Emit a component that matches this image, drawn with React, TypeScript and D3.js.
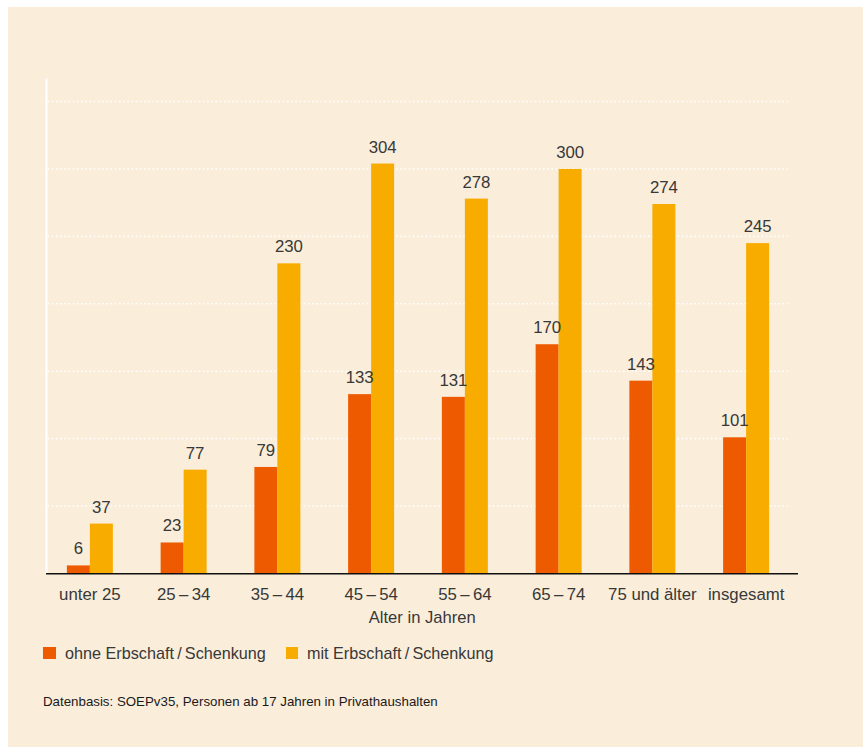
import React from "react";
import * as d3 from "d3";

const categories = ["unter 25", "25\u2009\u2013\u200934", "35\u2009\u2013\u200944", "45\u2009\u2013\u200954", "55\u2009\u2013\u200964", "65\u2009\u2013\u200974", "75 und älter", "insgesamt"];
const ohneValues = [6, 23, 79, 133, 131, 170, 143, 101];
const mitValues = [37, 77, 230, 304, 278, 300, 274, 245];
const gridTicks = [50, 100, 150, 200, 250, 300, 350];
const seriesNames = ["ohne Erbschaft\u2009/\u2009Schenkung", "mit Erbschaft\u2009/\u2009Schenkung"];
const xAxisTitle = "Alter in Jahren";
const sourceNote = "Datenbasis: SOEPv35, Personen ab 17 Jahren in Privathaushalten";

const W = 863;
const H = 747;
const BG = "#FAEDDA";
const ORANGE = "#EE5A00";
const YELLOW = "#F8AC00";
const TEXT = "#383838";
const FONT = "'Liberation Sans', Arial, Helvetica, sans-serif";

export default function App() {
  const x = d3.scaleBand<string>().domain(categories).range([43, 793]).padding(0);
  const y = d3.scaleLinear().domain([0, 350]).range([573.5, 101.5]);
  const barW = 23;
  const axisLeft = 46.5;
  const axisRight = 798;
  const gridRight = 788;

  return (
    <svg
      width={W}
      height={H}
      style={{ position: "absolute", left: 0, top: 0, display: "block" }}
      fontFamily={FONT}
    >
      <rect x={8} y={7} width={W - 8} height={H - 7} fill={BG} />
      {gridTicks.map((t) => (
        <line
          key={t}
          x1={axisLeft + 1}
          x2={gridRight}
          y1={y(t)}
          y2={y(t)}
          stroke="#FFFFFF"
          strokeWidth={1.6}
          strokeDasharray="1.6 2.6"
        />
      ))}
      <line x1={axisLeft} x2={axisLeft} y1={y(367)} y2={y(0)} stroke="#FFFFFF" strokeWidth={2} />
      {categories.map((c, i) => {
        const cx = (x(c) as number) + x.bandwidth() / 2;
        const o = ohneValues[i];
        const m = mitValues[i];
        return (
          <g key={c}>
            <rect x={cx - barW} y={y(o)} width={barW} height={y(0) - y(o)} fill={ORANGE} />
            <rect x={cx} y={y(m)} width={barW} height={y(0) - y(m)} fill={YELLOW} />
            <text x={cx - barW / 2} y={y(o) - 11} textAnchor="middle" fontSize={16.8} fill={TEXT}>
              {o}
            </text>
            <text x={cx + barW / 2} y={y(m) - 11} textAnchor="middle" fontSize={16.8} fill={TEXT}>
              {m}
            </text>
            <text x={cx} y={600} textAnchor="middle" fontSize={16.8} fill={TEXT}>
              {c}
            </text>
          </g>
        );
      })}
      <line x1={axisLeft - 0.5} x2={axisRight} y1={y(0) + 0.3} y2={y(0) + 0.3} stroke="#111111" strokeWidth={1.6} />
      <text x={(axisLeft + axisRight) / 2} y={623} textAnchor="middle" fontSize={16.6} fill={TEXT}>
        {xAxisTitle}
      </text>
      <rect x={43} y={647} width={13} height={12} fill={ORANGE} />
      <text x={65} y={659} fontSize={16.2} fill={TEXT}>
        {seriesNames[0]}
      </text>
      <rect x={286} y={647} width={12} height={12} fill={YELLOW} />
      <text x={307} y={659} fontSize={16.2} fill={TEXT}>
        {seriesNames[1]}
      </text>
      <text x={43} y={705.5} fontSize={13.3} fill="#1a1a1a">
        {sourceNote}
      </text>
    </svg>
  );
}
